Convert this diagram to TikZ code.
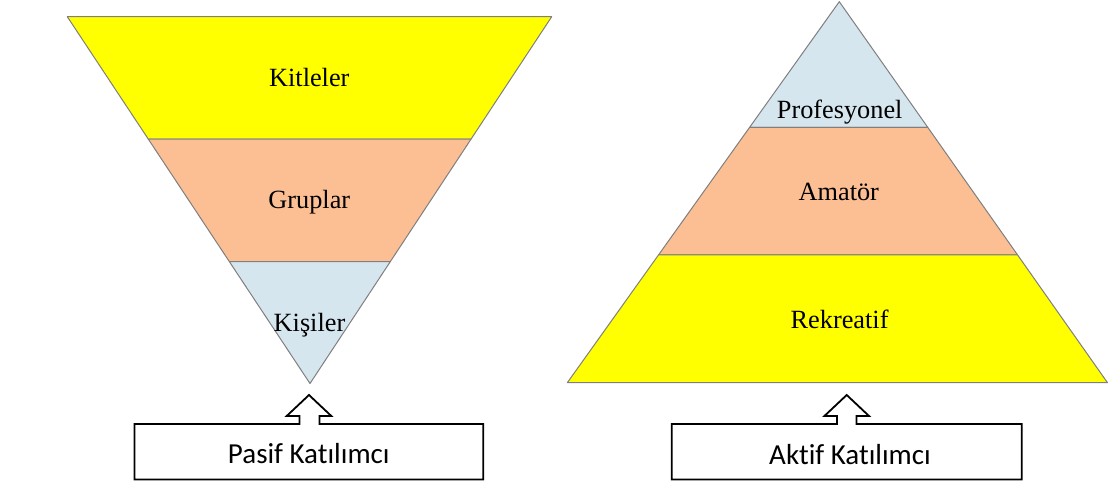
\documentclass[tikz,border=0pt]{standalone}
\usepackage{fontspec}
\setmainfont[Ligatures=NoCommon]{Liberation Serif}
\newfontfamily\calfont[Ligatures=NoCommon]{Carlito}
\usetikzlibrary{calc}
\definecolor{lyellow}{HTML}{FFFF00}
\definecolor{lorange}{HTML}{FCBF94}
\definecolor{lblue}{HTML}{D6E6EF}
\definecolor{edgegray}{HTML}{7F7F7F}
\begin{document}
\begin{tikzpicture}[x=1pt,y=-1pt,
  layer/.style={draw=edgegray, line width=1pt, line join=round},
  lbl/.style={font=\fontsize{26.3}{30}\selectfont, anchor=base, inner sep=0pt},
  callout/.style={draw=black, line width=1.8pt, fill=white, line join=miter},
  boxtext/.style={font=\calfont\fontsize{29}{33}\selectfont, anchor=base, inner sep=0pt}]
\useasboundingbox (0,0) rectangle (1108,486);

% ---- left inverted pyramid ----
\coordinate (LTL) at (67.3,16.7);
\coordinate (LTR) at (551.7,16.7);
\coordinate (LA) at (310,383.5);
\coordinate (L1l) at ($(LTL)!0.334!(LA)$);
\coordinate (L1r) at ($(LTR)!0.334!(LA)$);
\coordinate (L2l) at ($(LTL)!0.6676!(LA)$);
\coordinate (L2r) at ($(LTR)!0.6676!(LA)$);
\draw[layer, fill=lyellow] (LTL) -- (LTR) -- (L1r) -- (L1l) -- cycle;
\draw[layer, fill=lorange] (L1l) -- (L1r) -- (L2r) -- (L2l) -- cycle;
\draw[layer, fill=lblue] (L2l) -- (L2r) -- (LA) -- cycle;
\node[lbl] (kitleler) at (309.3,86.7) {Kitleler};
\node[lbl] (gruplar) at (309.3,209) {Gruplar};
\node[lbl] (kisiler) at (309.5,331.7) {Kişiler};

% ---- right pyramid ----
\coordinate (RA) at (839.3,1.7);
\coordinate (RBL) at (567.3,382.7);
\coordinate (RBR) at (1107.5,382.7);
\coordinate (R1l) at ($(RA)!0.3297!(RBL)$);
\coordinate (R1r) at ($(RA)!0.3297!(RBR)$);
\coordinate (R2l) at ($(RA)!0.6648!(RBL)$);
\coordinate (R2r) at ($(RA)!0.6648!(RBR)$);
\draw[layer, fill=lblue] (RA) -- (R1r) -- (R1l) -- cycle;
\draw[layer, fill=lorange] (R1l) -- (R1r) -- (R2r) -- (R2l) -- cycle;
\draw[layer, fill=lyellow] (R2l) -- (R2r) -- (RBR) -- (RBL) -- cycle;
\node[lbl] (profesyonel) at (839.7,118.3) {Profesyonel};
\node[lbl] (amator) at (838.8,200.7) {Amatör};
\node[lbl] (rekreatif) at (839.6,328.5) {Rekreatif};

% ---- callouts ----
\draw[callout] (134.5,424) -- (299.5,424) -- (299.5,416) -- (286.7,416) -- (309,395)
  -- (331.3,416) -- (319.5,416) -- (319.5,424) -- (483.3,424) -- (483.3,479.5)
  -- (134.5,479.5) -- cycle;
\node[boxtext] (pasif) at (308.8,463.5) {Pasif Katılımcı};

\draw[callout] (671.7,424) -- (837,424) -- (837,416) -- (824.4,416) -- (846.7,395)
  -- (869,416) -- (856.4,416) -- (856.4,424) -- (1021.7,424) -- (1021.7,479.5)
  -- (671.7,479.5) -- cycle;
\node[boxtext] (aktif) at (850,464) {Aktif Katılımcı};
\end{tikzpicture}
\end{document}
